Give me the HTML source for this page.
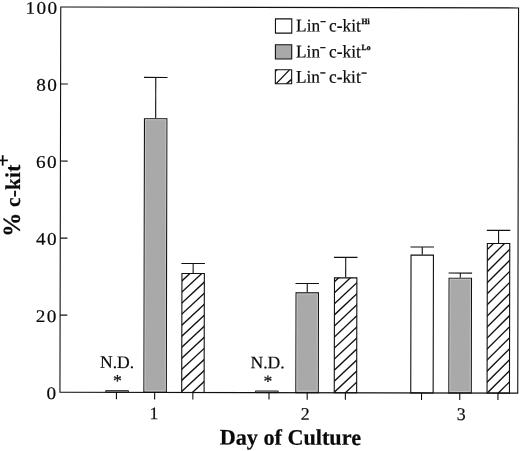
<!DOCTYPE html><html><head><meta charset="utf-8"><title>chart</title><style>html,body{margin:0;padding:0;background:#fff}svg{display:block}text{font-family:"Liberation Serif",serif;fill:#0a0a0a;stroke:#0a0a0a;stroke-width:0.2px}</style></head><body>
<svg width="520" height="451" viewBox="0 0 520 451">
<rect width="520" height="451" fill="#fff"/>
<g transform="rotate(0.12 260 225)">
<rect x="106.10" y="390.90" width="22.70" height="1.70" fill="#a2a2a2" stroke="#101010" stroke-width="0.8"/>
<rect x="144.25" y="118.97" width="22.40" height="273.63" fill="#a9a9a9" stroke="#101010" stroke-width="1.1"/>
<rect x="145.30" y="120.02" width="20.30" height="270.98" fill="none" stroke="#c2c2c2" stroke-width="1"/>
<line x1="155.45" y1="118.42" x2="155.45" y2="77.62" stroke="#101010" stroke-width="1.1"/>
<line x1="143.70" y1="77.62" x2="167.20" y2="77.62" stroke="#101010" stroke-width="1.1"/>
<rect x="182.05" y="273.59" width="22.40" height="119.01" fill="#fff" stroke="#101010" stroke-width="1.1"/>
<clipPath id="c2"><rect x="182.05" y="273.59" width="22.40" height="119.01"/></clipPath>
<g clip-path="url(#c2)" stroke="#101010" stroke-width="1.35">
<line x1="181.50" y1="403.15" x2="205.00" y2="381.18"/>
<line x1="181.50" y1="392.10" x2="205.00" y2="370.13"/>
<line x1="181.50" y1="381.05" x2="205.00" y2="359.08"/>
<line x1="181.50" y1="370.00" x2="205.00" y2="348.03"/>
<line x1="181.50" y1="358.95" x2="205.00" y2="336.98"/>
<line x1="181.50" y1="347.90" x2="205.00" y2="325.93"/>
<line x1="181.50" y1="336.85" x2="205.00" y2="314.88"/>
<line x1="181.50" y1="325.80" x2="205.00" y2="303.83"/>
<line x1="181.50" y1="314.75" x2="205.00" y2="292.78"/>
<line x1="181.50" y1="303.70" x2="205.00" y2="281.73"/>
<line x1="181.50" y1="292.65" x2="205.00" y2="270.68"/>
<line x1="181.50" y1="281.60" x2="205.00" y2="259.63"/>
<line x1="181.50" y1="270.55" x2="205.00" y2="248.58"/>
</g>
<line x1="193.25" y1="273.04" x2="193.25" y2="263.64" stroke="#101010" stroke-width="1.1"/>
<line x1="181.50" y1="263.64" x2="205.00" y2="263.64" stroke="#101010" stroke-width="1.1"/>
<rect x="255.85" y="390.90" width="22.70" height="1.70" fill="#a2a2a2" stroke="#101010" stroke-width="0.8"/>
<rect x="296.20" y="292.75" width="22.40" height="99.85" fill="#a9a9a9" stroke="#101010" stroke-width="1.1"/>
<rect x="297.25" y="293.80" width="20.30" height="97.20" fill="none" stroke="#c2c2c2" stroke-width="1"/>
<line x1="307.40" y1="292.20" x2="307.40" y2="283.40" stroke="#101010" stroke-width="1.1"/>
<line x1="295.65" y1="283.40" x2="319.15" y2="283.40" stroke="#101010" stroke-width="1.1"/>
<rect x="334.60" y="277.67" width="22.40" height="114.93" fill="#fff" stroke="#101010" stroke-width="1.1"/>
<clipPath id="c5"><rect x="334.60" y="277.67" width="22.40" height="114.93"/></clipPath>
<g clip-path="url(#c5)" stroke="#101010" stroke-width="1.35">
<line x1="334.05" y1="403.65" x2="357.55" y2="381.44"/>
<line x1="334.05" y1="392.60" x2="357.55" y2="370.39"/>
<line x1="334.05" y1="381.55" x2="357.55" y2="359.34"/>
<line x1="334.05" y1="370.50" x2="357.55" y2="348.29"/>
<line x1="334.05" y1="359.45" x2="357.55" y2="337.24"/>
<line x1="334.05" y1="348.40" x2="357.55" y2="326.19"/>
<line x1="334.05" y1="337.35" x2="357.55" y2="315.14"/>
<line x1="334.05" y1="326.30" x2="357.55" y2="304.09"/>
<line x1="334.05" y1="315.25" x2="357.55" y2="293.04"/>
<line x1="334.05" y1="304.20" x2="357.55" y2="281.99"/>
<line x1="334.05" y1="293.15" x2="357.55" y2="270.94"/>
<line x1="334.05" y1="282.10" x2="357.55" y2="259.89"/>
</g>
<line x1="345.80" y1="277.12" x2="345.80" y2="257.22" stroke="#101010" stroke-width="1.1"/>
<line x1="334.05" y1="257.22" x2="357.55" y2="257.22" stroke="#101010" stroke-width="1.1"/>
<rect x="411.10" y="254.81" width="22.40" height="137.79" fill="#fff" stroke="#101010" stroke-width="1.1"/>
<line x1="422.30" y1="254.26" x2="422.30" y2="246.66" stroke="#101010" stroke-width="1.1"/>
<line x1="410.55" y1="246.66" x2="434.05" y2="246.66" stroke="#101010" stroke-width="1.1"/>
<rect x="449.20" y="277.83" width="22.40" height="114.77" fill="#a9a9a9" stroke="#101010" stroke-width="1.1"/>
<rect x="450.25" y="278.88" width="20.30" height="112.12" fill="none" stroke="#c2c2c2" stroke-width="1"/>
<line x1="460.40" y1="277.28" x2="460.40" y2="272.68" stroke="#101010" stroke-width="1.1"/>
<line x1="448.65" y1="272.68" x2="472.15" y2="272.68" stroke="#101010" stroke-width="1.1"/>
<rect x="487.40" y="242.95" width="22.40" height="149.65" fill="#fff" stroke="#101010" stroke-width="1.1"/>
<clipPath id="c8"><rect x="487.40" y="242.95" width="22.40" height="149.65"/></clipPath>
<g clip-path="url(#c8)" stroke="#101010" stroke-width="1.35">
<line x1="486.85" y1="404.35" x2="510.35" y2="380.85"/>
<line x1="486.85" y1="393.30" x2="510.35" y2="369.80"/>
<line x1="486.85" y1="382.25" x2="510.35" y2="358.75"/>
<line x1="486.85" y1="371.20" x2="510.35" y2="347.70"/>
<line x1="486.85" y1="360.15" x2="510.35" y2="336.65"/>
<line x1="486.85" y1="349.10" x2="510.35" y2="325.60"/>
<line x1="486.85" y1="338.05" x2="510.35" y2="314.55"/>
<line x1="486.85" y1="327.00" x2="510.35" y2="303.50"/>
<line x1="486.85" y1="315.95" x2="510.35" y2="292.45"/>
<line x1="486.85" y1="304.90" x2="510.35" y2="281.40"/>
<line x1="486.85" y1="293.85" x2="510.35" y2="270.35"/>
<line x1="486.85" y1="282.80" x2="510.35" y2="259.30"/>
<line x1="486.85" y1="271.75" x2="510.35" y2="248.25"/>
<line x1="486.85" y1="260.70" x2="510.35" y2="237.20"/>
<line x1="486.85" y1="249.65" x2="510.35" y2="226.15"/>
<line x1="486.85" y1="238.60" x2="510.35" y2="215.10"/>
</g>
<line x1="498.60" y1="242.40" x2="498.60" y2="229.90" stroke="#101010" stroke-width="1.1"/>
<line x1="486.85" y1="229.90" x2="510.35" y2="229.90" stroke="#101010" stroke-width="1.1"/>
<rect x="60.3" y="7.4" width="457.80" height="385.20" fill="none" stroke="#101010" stroke-width="1.1"/>
<text transform="translate(58.0 399.40) scale(1.08 1)" font-size="17.8" text-anchor="end" letter-spacing="1.3">0</text>
<line x1="60.3" y1="315.56" x2="67.5" y2="315.56" stroke="#101010" stroke-width="1.1"/>
<text transform="translate(58.0 322.36) scale(1.08 1)" font-size="17.8" text-anchor="end" letter-spacing="1.3">20</text>
<line x1="60.3" y1="238.52" x2="67.5" y2="238.52" stroke="#101010" stroke-width="1.1"/>
<text transform="translate(58.0 245.32) scale(1.08 1)" font-size="17.8" text-anchor="end" letter-spacing="1.3">40</text>
<line x1="60.3" y1="161.48" x2="67.5" y2="161.48" stroke="#101010" stroke-width="1.1"/>
<text transform="translate(58.0 168.28) scale(1.08 1)" font-size="17.8" text-anchor="end" letter-spacing="1.3">60</text>
<line x1="60.3" y1="84.44" x2="67.5" y2="84.44" stroke="#101010" stroke-width="1.1"/>
<text transform="translate(58.0 91.24) scale(1.08 1)" font-size="17.8" text-anchor="end" letter-spacing="1.3">80</text>
<text transform="translate(58.0 14.20) scale(1.08 1)" font-size="17.8" text-anchor="end" letter-spacing="1.3">100</text>
<line x1="116.80" y1="392.6" x2="116.80" y2="399.6" stroke="#101010" stroke-width="1.1"/>
<line x1="155.00" y1="392.6" x2="155.00" y2="399.6" stroke="#101010" stroke-width="1.1"/>
<line x1="193.20" y1="392.6" x2="193.20" y2="399.6" stroke="#101010" stroke-width="1.1"/>
<line x1="269.35" y1="392.6" x2="269.35" y2="399.6" stroke="#101010" stroke-width="1.1"/>
<line x1="307.55" y1="392.6" x2="307.55" y2="399.6" stroke="#101010" stroke-width="1.1"/>
<line x1="345.75" y1="392.6" x2="345.75" y2="399.6" stroke="#101010" stroke-width="1.1"/>
<line x1="421.90" y1="392.6" x2="421.90" y2="399.6" stroke="#101010" stroke-width="1.1"/>
<line x1="460.10" y1="392.6" x2="460.10" y2="399.6" stroke="#101010" stroke-width="1.1"/>
<line x1="498.30" y1="392.6" x2="498.30" y2="399.6" stroke="#101010" stroke-width="1.1"/>
<text x="154.3" y="419.6" font-size="17.8" text-anchor="middle">1</text>
<text x="305.6" y="419.6" font-size="17.8" text-anchor="middle">2</text>
<text x="461.6" y="419.6" font-size="17.8" text-anchor="middle">3</text>
<text x="117.4" y="368.2" font-size="17.6" text-anchor="middle">N.D.</text>
<text x="117.7" y="386.9" font-size="17.6" text-anchor="middle">*</text>
<text x="267.9" y="368.2" font-size="17.6" text-anchor="middle">N.D.</text>
<text x="268.2" y="386.9" font-size="17.6" text-anchor="middle">*</text>
<text x="290.8" y="444.7" font-size="22.2" font-weight="bold" text-anchor="middle" fill="#000">Day of Culture</text>
<text transform="translate(19.9 237.6) rotate(-90)" font-size="21.2" font-weight="bold" fill="#000" letter-spacing="0.25"><tspan font-size="24.4">%</tspan> c-kit<tspan dx="-2.4" dy="-10.0" font-size="22">+</tspan></text>
<rect x="275.05" y="18.85" width="16.30" height="14.20" fill="#fff" stroke="#101010" stroke-width="1.1"/>
<text transform="translate(295.7 31.40) scale(1 1.035)" font-size="17.3">Lin<tspan dy="-6.2" font-size="10" font-weight="bold" stroke-width="0.4">−</tspan><tspan dy="6.2" dx="-1.0"> c-kit</tspan><tspan dx="0.8" dy="-7.3" font-size="7.7" font-weight="bold" stroke="#0a0a0a" stroke-width="0.3">Hi</tspan></text>
<rect x="275.05" y="44.65" width="16.30" height="14.30" fill="#a9a9a9" stroke="#101010" stroke-width="1.1"/>
<text transform="translate(295.7 57.40) scale(1 1.035)" font-size="17.3">Lin<tspan dy="-6.2" font-size="10" font-weight="bold" stroke-width="0.4">−</tspan><tspan dy="6.2" dx="-1.0"> c-kit</tspan><tspan dx="0.8" dy="-7.3" font-size="7.7" font-weight="bold" stroke="#0a0a0a" stroke-width="0.3">Lo</tspan></text>
<rect x="275.05" y="69.75" width="16.30" height="14.00" fill="#fff" stroke="#101010" stroke-width="1.1"/>
<clipPath id="lc"><rect x="275.05" y="69.75" width="16.30" height="14.00"/></clipPath>
<g clip-path="url(#lc)" stroke="#101010" stroke-width="1.3"><line x1="275.6" y1="83.90" x2="289.4" y2="69.60"/><line x1="285.6" y1="84.30" x2="292.2" y2="78.50" stroke-width="1.6"/><line x1="274" y1="72.20" x2="278" y2="68.20"/></g>
<text transform="translate(295.7 82.60) scale(1 1.035)" font-size="17.3">Lin<tspan dy="-6.2" font-size="10" font-weight="bold" stroke-width="0.4">−</tspan><tspan dy="6.2" dx="-1.0"> c-kit</tspan><tspan dx="0.6" dy="-6.2" font-size="10" font-weight="bold" stroke-width="0.4">−</tspan></text>
</g></svg></body></html>
